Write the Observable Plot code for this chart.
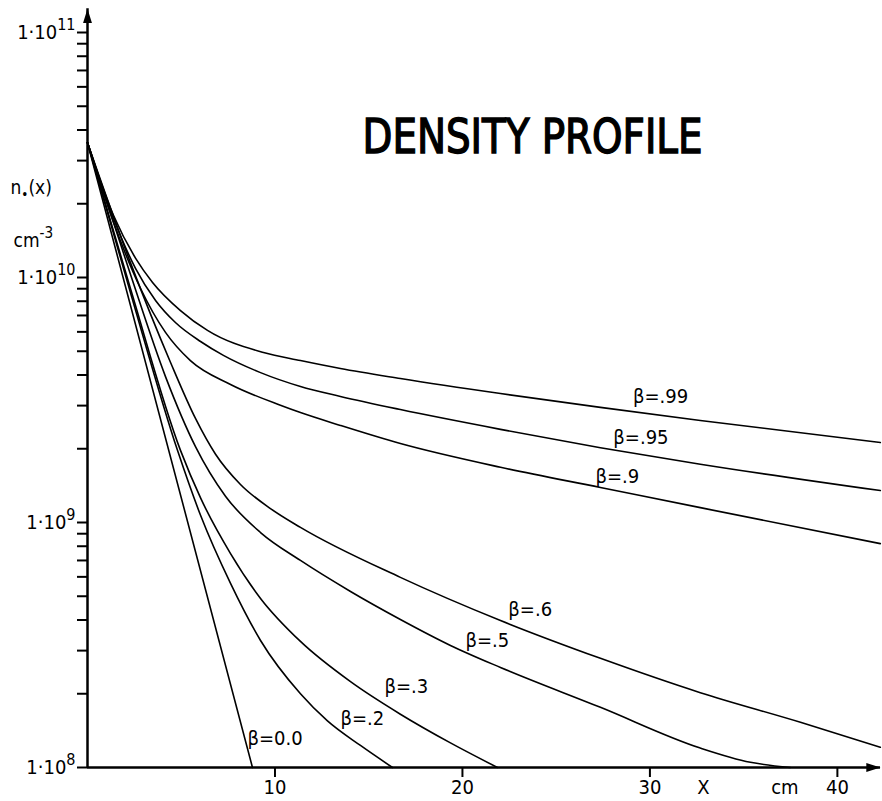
<!DOCTYPE html>
<html><head><meta charset="utf-8">
<script src="https://cdn.jsdelivr.net/npm/d3@7"></script>
<script src="https://cdn.jsdelivr.net/npm/@observablehq/plot@0.6"></script>
<style>html,body{margin:0;padding:0;background:#fff}</style>
</head><body><div id="chart"></div>
<script>
// ---- data ----
const betaLabels = ["β=.99", "β=.95", "β=.9", "β=.6", "β=.5", "β=.3", "β=.2", "β=0.0"];

const beta99X = [0, 1.39, 2.56, 3.47, 4.96, 6.4, 9.39, 11.36, 13.49, 16.69, 22.03, 27.36, 32.69, 42.29];
const beta99Y = [3.55e10, 1.79e10, 1.20e10, 9.55e9, 7.33e9, 6.08e9, 4.94e9, 4.58e9, 4.25e9, 3.87e9, 3.36e9, 2.95e9, 2.61e9, 2.12e9];

const beta95X = [0, 1.39, 2.56, 3.63, 4.69, 6.03, 7.25, 9.23, 11.36, 13.49, 16.69, 22.03, 27.36, 32.69, 42.29];
const beta95Y = [3.55e10, 1.74e10, 1.09e10, 8.06e9, 6.55e9, 5.48e9, 4.81e9, 4.09e9, 3.59e9, 3.27e9, 2.89e9, 2.40e9, 2.02e9, 1.73e9, 1.35e9];

const beta90X = [0, 1.39, 2.83, 4.16, 5.49, 7.63, 10.29, 11.36, 13.49, 16.69, 22.03, 27.36, 32.69, 42.29];
const beta90Y = [3.55e10, 1.68e10, 9.02e9, 5.97e9, 4.58e9, 3.66e9, 3.01e9, 2.81e9, 2.49e9, 2.10e9, 1.68e9, 1.39e9, 1.15e9, 8.2e8];

const beta60X = [0, 2.29, 4.43, 5.76, 6.83, 8.16, 9.76, 11.36, 16.69, 22.03, 27.36, 32.69, 38.03, 42.29];
const beta60Y = [3.55e10, 1.15e10, 4.50e9, 2.66e9, 1.90e9, 1.43e9, 1.14e9, 9.55e8, 5.97e8, 3.98e8, 2.79e8, 2.02e8, 1.53e8, 1.21e8];

const beta50X = [0, 2.29, 4.16, 5.76, 7.36, 9.23, 11.36, 14.03, 16.69, 19.36, 22.03, 27.36, 32.69, 35.36, 37.49];
const beta50Y = [3.55e10, 1.03e10, 3.94e9, 2.04e9, 1.28e9, 9.10e8, 7.00e8, 5.23e8, 4.02e8, 3.15e8, 2.56e8, 1.76e8, 1.20e8, 1.05e8, 1.0e8];

const beta30X = [0, 2.29, 4.96, 6.03, 7.63, 9.23, 11.36, 14.03, 16.69, 19.36, 21.87];
const beta30Y = [3.55e10, 9.02e9, 1.97e9, 1.26e9, 7.47e8, 4.90e8, 3.27e8, 2.24e8, 1.65e8, 1.26e8, 1.0e8];

const beta20X = [0, 2.29, 4.8, 6.03, 7.63, 9.23, 11.36, 12.8, 14.56, 16.27];
const beta20Y = [3.55e10, 8.69e9, 1.97e9, 1.07e9, 5.64e8, 3.30e8, 2.00e8, 1.55e8, 1.23e8, 1.0e8];

const beta00X = [0, 8.8];
const beta00Y = [3.55e10, 1.0e8];

const labelX = [29.1, 28.05, 27.1, 22.45, 20.16, 15.84, 13.49, 8.53];
const labelY = [3.27e9, 2.22e9, 1.54e9, 4.42e8, 3.30e8, 2.14e8, 1.58e8, 1.31e8];

const xTicks = [10, 20, 30, 40];
const yDecades = [1e8, 1e9, 1e10, 1e11];
const yExponents = ["8", "9", "10", "11"];
const minorMultipliers = [2, 3, 4, 5, 6, 7, 8, 9];
const xAxisWords = ["X", "cm"];
const xAxisWordPos = [32.85, 37.2];
const titleText = "DENSITY PROFILE";
const yLabel1 = "n•(x)";
const yLabel2 = "cm^-3";

// ---- build tables ----
const seriesX = [beta99X, beta95X, beta90X, beta60X, beta50X, beta30X, beta20X, beta00X];
const seriesY = [beta99Y, beta95Y, beta90Y, beta60Y, beta50Y, beta30Y, beta20Y, beta00Y];
const rows = seriesX.flatMap((xs, i) => xs.map((x, j) => ({beta: betaLabels[i], x, y: seriesY[i][j]})));
const labels = betaLabels.map((t, i) => ({t, x: labelX[i], y: labelY[i]}));
const yTicks = [...yDecades, ...yDecades.slice(0, 3).flatMap(d => minorMultipliers.map(m => m * d))];
const yTop = 1.25e11;
const xMax = 42.3;

const font = "'DejaVu Sans Condensed', 'DejaVu Sans', sans-serif";

const arrowHead = {
  draw(context, size) {
    const s = Math.sqrt(size);
    const h = s * 1.6, w = s * 0.5;
    context.moveTo(0, 0);
    context.lineTo(w, h);
    context.lineTo(-w, h);
    context.closePath();
  }
};

const plot = Plot.plot({
  width: 882, height: 801,
  marginLeft: 87, marginRight: 2, marginTop: 32, marginBottom: 34,
  style: {fontFamily: font, fontSize: "20px", background: "white", color: "black"},
  x: {domain: [0, xMax], axis: null},
  y: {type: "log", domain: [1e8, 1e11], axis: null},
  marks: [
    Plot.line(rows, {x: "x", y: "y", z: "beta", stroke: "black", strokeWidth: 1.6, curve: "monotone-x"}),
    Plot.ruleY([1e8], {stroke: "black", strokeWidth: 2.5}),
    Plot.ruleX([0], {y1: 1e8, y2: yTop, stroke: "black", strokeWidth: 2.5}),
    Plot.dot([{x: 0, y: yTop}], {x: "x", y: "y", symbol: arrowHead, r: 5, fill: "black", stroke: null}),
    Plot.dot([{x: xMax, y: 1e8}], {x: "x", y: "y", symbol: arrowHead, r: 5, rotate: 90, fill: "black", stroke: null}),
    Plot.axisY(yTicks, {anchor: "left", label: null, tickSize: 10, tickPadding: 2, strokeWidth: 2, fontSize: 20,
      tickFormat: d => { const i = yDecades.indexOf(d); return i >= 0 ? "1·10^" + yExponents[i] : ""; }}),
    Plot.axisX(xTicks, {anchor: "bottom", label: null, tickSize: 10, tickPadding: 2, strokeWidth: 2, fontSize: 20, tickFormat: d => String(d)}),
    Plot.text(xAxisWords, {x: (d, i) => xAxisWordPos[i], text: d => d, frameAnchor: "bottom", dy: 20, lineAnchor: "middle", fontSize: 20}),
    Plot.text(labels, {x: "x", y: "y", text: "t", textAnchor: "start", lineAnchor: "middle", fontSize: 20}),
    Plot.text([titleText], {text: d => d, frameAnchor: "top", dx: 48.5, dy: 105.5, lineAnchor: "middle", fontSize: 48, fill: "black"}),
    Plot.text([yLabel1], {text: d => d, frameAnchor: "top-left", dx: -77, dy: 155, textAnchor: "start", lineAnchor: "middle", fontSize: 19}),
    Plot.text([yLabel2], {text: d => d, frameAnchor: "top-left", dx: -74, dy: 208, textAnchor: "start", lineAnchor: "middle", fontSize: 19})
  ]
});

const svg = d3.select(plot);
svg.selectAll("text").each(function() {
  const t = d3.select(this);
  const s = t.text();
  if (s.includes("^")) {
    const [base, exp] = s.split("^");
    t.text(base);
    t.append("tspan").attr("dy", "-0.55em").attr("font-size", "0.8em").text(exp);
  } else if (s === yLabel1) {
    t.text("n");
    t.append("tspan").attr("dy", 5).attr("font-size", "0.7em").text("•");
    t.append("tspan").attr("dy", -5).text("(x)");
  } else if (s === titleText) {
    t.attr("textLength", 340).attr("lengthAdjust", "spacingAndGlyphs")
     .attr("stroke", "black").attr("stroke-width", 1.4);
  }
});

document.getElementById("chart").appendChild(plot);
</script>
</body></html>
